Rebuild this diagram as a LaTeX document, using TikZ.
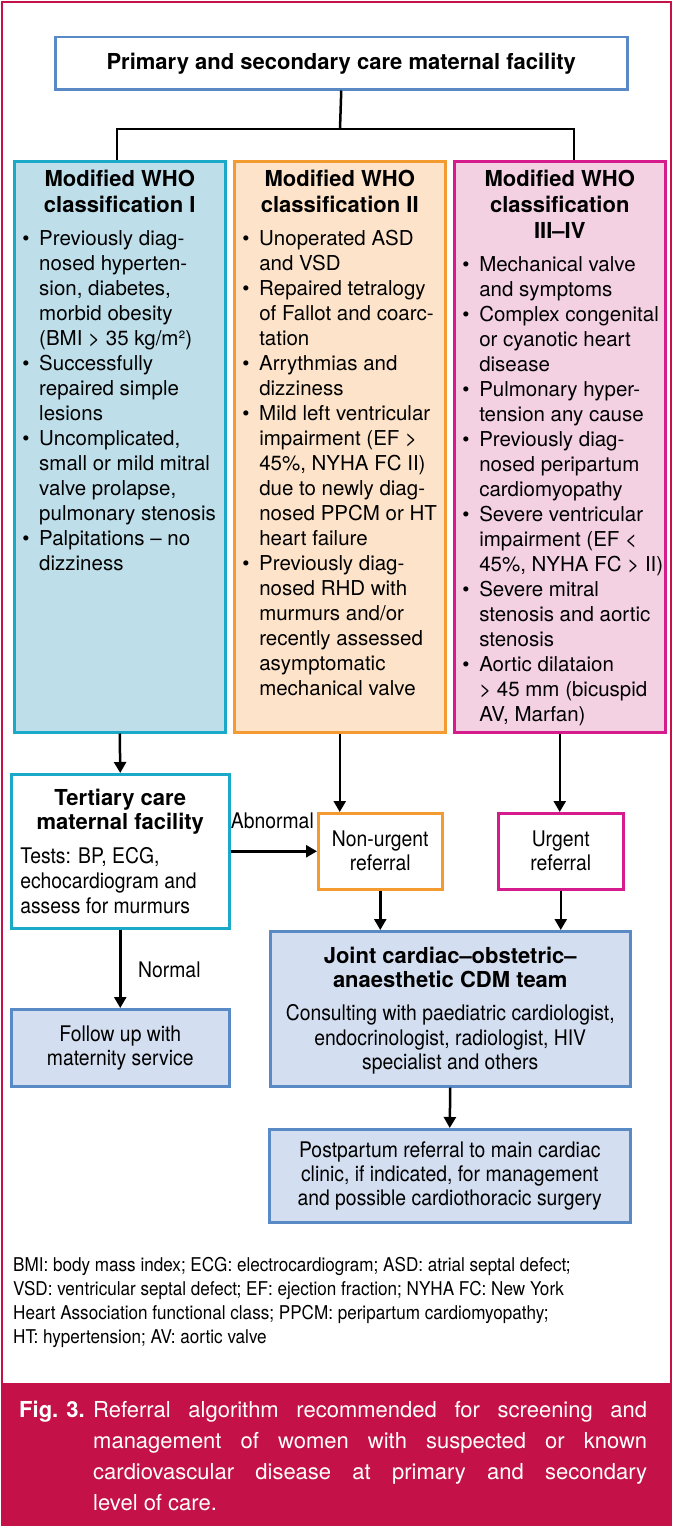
\documentclass[tikz,border=0pt]{standalone}
\usepackage{fontspec}
\setmainfont{TeX Gyre Heros}
\newfontfamily\etroit{TeX Gyre Heros}[FakeStretch=0.9]
\usetikzlibrary{arrows.meta}

\definecolor{cadre}{HTML}{C41248}
\definecolor{bleu}{HTML}{5A8AC6}
\definecolor{bleuclair}{HTML}{D3DEF0}
\definecolor{cyanfonce}{HTML}{1AA9C9}
\definecolor{cyanclair}{HTML}{BEDFEA}
\definecolor{orangefonce}{HTML}{F39B30}
\definecolor{orangeclair}{HTML}{FDE3C9}
\definecolor{rosefonce}{HTML}{D61C8C}
\definecolor{roseclair}{HTML}{F3D1E3}

\newcommand{\titre}[2][26]{{\centering\fontsize{22}{#1}\selectfont\bfseries #2\par}}
\newcommand{\puce}[1]{\par\noindent\hangindent=17pt\hangafter=1%
\makebox[17pt][l]{\textbullet}{\let\\\newline #1}}

\begin{document}
\begin{tikzpicture}[x=1pt,y=-1pt]
\tikzstyle{trait}=[line width=2.5pt]
\tikzstyle{fleche}=[-{Triangle[length=11pt,width=12pt]},line width=2.5pt]
\tikzset{boite/.style={draw=#1,line width=2.5pt,anchor=north west,inner sep=0pt},
boite/.default={bleu}}
\useasboundingbox (0,0) rectangle (674,1528);
\fill[white] (0,0) rectangle (674,1528);
\draw[cadre,line width=2pt] (2,2) rectangle (671,1525);
\fill[cadre] (2,1383) rectangle (671,1525);

\node[boite,fill=white,minimum width=572pt,minimum height=52pt,
  font=\fontsize{22}{26}\selectfont\bfseries] (P) at (54,36)
  {Primary and secondary care maternal facility};

\node[boite=cyanfonce,fill=cyanclair,inner xsep=8pt] (C1) at (13,160)
{\parbox[c][571pt][t]{195pt}{\rightskip=-20pt plus 1fil\relax
\vspace*{9pt}\titre{Modified WHO\\classification I}\vspace{8pt}
\fontsize{20.5}{25}\selectfont
\puce{Previously diag-\\nosed hyperten-\\sion, diabetes,\\morbid obesity\\(BMI > 35 kg/m²)}
\puce{Successfully\\repaired simple\\lesions}
\puce{Uncomplicated,\\small or mild mitral\\valve prolapse,\\pulmonary stenosis}
\puce{Palpitations – no\\dizziness}\par}};

\node[boite=orangefonce,fill=orangeclair,inner xsep=8pt] (C2) at (233,160)
{\parbox[c][571pt][t]{195pt}{\rightskip=-20pt plus 1fil\relax
\vspace*{9pt}\titre{Modified WHO\\classification II}\vspace{8pt}
\fontsize{20.5}{25}\selectfont
\puce{Unoperated ASD\\and VSD}
\puce{Repaired tetralogy\\of Fallot and coarc-\\tation}
\puce{Arrythmias and\\dizziness}
\puce{Mild left ventricular\\impairment (EF >\\45\%, NYHA FC II)\\due to newly diag-\\nosed PPCM or HT\\heart failure}
\puce{Previously diag-\\nosed RHD with\\murmurs and/or\\recently assessed\\asymptomatic\\mechanical valve}\par}};

\node[boite=rosefonce,fill=roseclair,inner xsep=8pt] (C3) at (453,160)
{\parbox[c][571pt][t]{195pt}{\rightskip=-20pt plus 1fil\relax
\vspace*{9pt}\titre{Modified WHO\\classification\\III–IV}\vspace{8pt}
\fontsize{20.5}{25}\selectfont
\puce{Mechanical valve\\and symptoms}
\puce{Complex congenital\\or cyanotic heart\\disease}
\puce{Pulmonary hyper-\\tension any cause}
\puce{Previously diag-\\nosed peripartum\\cardiomyopathy}
\puce{Severe ventricular\\impairment (EF <\\45\%, NYHA FC > II)}
\puce{Severe mitral\\stenosis and aortic\\stenosis}
\puce{Aortic dilataion\\> 45 mm (bicuspid\\AV, Marfan)}\par}};

% niveau tertiaire
\node[boite=cyanfonce,fill=white,inner xsep=9pt] (T) at (10,773)
{\parbox[c][154pt][t]{200pt}{\vspace*{15pt}\titre[24]{Tertiary care\\maternal facility}
\vspace{9pt}{\etroit\fontsize{21.5}{25}\selectfont\raggedright
Tests: BP, ECG,\\echocardiogram and\\assess for murmurs\par}}};

\node[boite=orangefonce,fill=white,minimum width=124pt,minimum height=76pt,
  align=center,font=\etroit\fontsize{21.5}{24}\selectfont] (N) at (317,812)
  {Non-urgent\\referral};
\node[boite=rosefonce,fill=white,minimum width=125pt,minimum height=76pt,
  align=center,font=\etroit\fontsize{21.5}{24}\selectfont] (U) at (497,812)
  {Urgent\\referral};

\node[boite,fill=bleuclair,minimum width=218pt,minimum height=77pt,
  align=center,font=\etroit\fontsize{21.5}{24}\selectfont] (S) at (10,1008)
  {Follow up with\\maternity service};

\node[boite,fill=bleuclair,inner xsep=5pt] (E) at (269,930)
{\parbox[c][155pt][t]{350pt}{\vspace*{16pt}\titre[24]{Joint cardiac–obstetric–\\anaesthetic CDM team}
\vspace{8.5pt}{\etroit\fontsize{21.5}{24.5}\selectfont\centering
Consulting with paediatric cardiologist,\\endocrinologist, radiologist, HIV\\specialist and others\par}}};

\node[boite,fill=bleuclair,minimum width=361pt,minimum height=93pt,
  align=center,font=\etroit\fontsize{21.5}{24}\selectfont] (R) at (268,1128)
  {Postpartum referral to main cardiac\\clinic, if indicated, for management\\and possible cardiothoracic surgery};

\node[anchor=base east,inner sep=0pt,font=\etroit\fontsize{21.5}{24}\selectfont] (Ab) at (314,828) {Abnormal};
\node[anchor=base west,inner sep=0pt,font=\etroit\fontsize{21.5}{24}\selectfont] (No) at (138,977) {Normal};

% liens
\coordinate (J) at (340,129);
\draw[trait] (P.south) -- (J);
\draw[trait] (J) -| ([xshift=-3pt]C1.north);
\draw[trait] (J) -| ([xshift=14pt]C3.north);

\draw[fleche] (C1.south) -- (T.north);
\draw[fleche] (C2.south) -- (C2.south |- N.north);
\draw[fleche] (C3.south) -- (C3.south |- U.north);
\draw[fleche] (T.east) -- (N.west);
\draw[fleche] (T.south) -- (S.north);
\draw[fleche] (N.south) -- (N.south |- E.north);
\draw[fleche] (U.south) -- (U.south |- E.north);
\draw[fleche] (E.south) -- (R.north);

% notes et legende
\node[anchor=north west,inner sep=0pt,align=left,font=\etroit\fontsize{19}{24}\selectfont] (F) at (13,1257)
{BMI: body mass index; ECG: electrocardiogram; ASD: atrial septal defect;\\
VSD: ventricular septal defect; EF: ejection fraction; NYHA FC: New York\\
Heart Association functional class; PPCM: peripartum cardiomyopathy;\\
HT: hypertension; AV: aortic valve};

\node[anchor=north west,inner sep=0pt,text=white] (L) at (19,1401)
{\parbox{628pt}{\fontsize{22}{31}\selectfont\hangindent=74pt\hangafter=1\noindent
\makebox[74pt][l]{\bfseries Fig. 3.}Referral algorithm recommended for screening and\linebreak
management of women with suspected or known\linebreak
cardiovascular disease at primary and secondary\linebreak
level of care.}};
\end{tikzpicture}
\end{document}
